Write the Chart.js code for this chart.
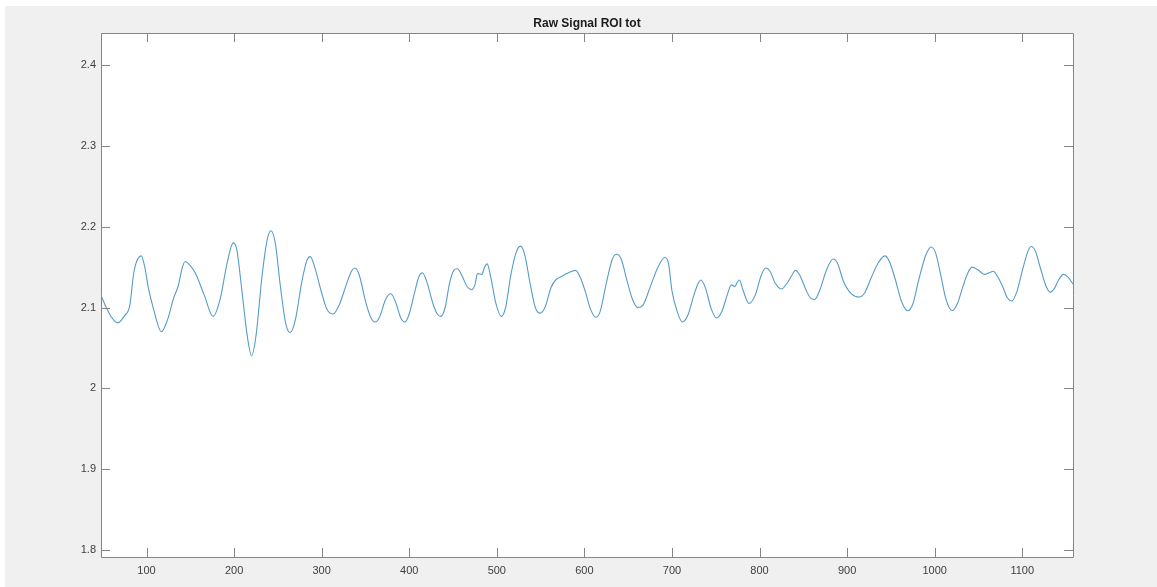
<!DOCTYPE html>
<html>
<head>
<meta charset="utf-8">
<title>Raw Signal ROI tot</title>
<script src="https://cdn.jsdelivr.net/npm/chart.js@4/dist/chart.umd.min.js"></script>
<style>
    html, body { margin: 0; padding: 0; background: #fff; }
    #wrap { position: absolute; left: 5px; top: 6px; width: 1152px; height: 581px; background: #f0f0f0; }
    canvas { display: block; }
</style>
</head>
<body>
<div id="wrap"><canvas id="myChart" width="1152" height="581"></canvas></div>
<script>
// sample index (x) and raw signal value
const sampleX = [
    48, 54, 60, 67, 75, 81, 85, 88, 94, 98, 102, 108, 117, 124, 131, 136, 141, 144, 150, 156,
    166, 176, 184, 192, 199, 203, 209, 215, 220, 225, 232, 238, 242, 247, 253, 259, 264, 270, 277, 283,
    287, 292, 300, 306, 313, 320, 328, 334, 338, 343, 350, 356, 361, 366, 373, 379, 385, 390, 395, 400,
    406, 411, 415, 420, 427, 432, 436, 441, 446, 451, 455, 460, 466, 471, 475, 478, 483, 486, 489, 493,
    499, 505, 510, 516, 522, 527, 532, 538, 544, 549, 555, 562, 568, 575, 580, 586, 590, 595, 601, 607,
    613, 618, 625, 632, 637, 642, 649, 655, 661, 667, 675, 684, 692, 696, 700, 706, 712, 718, 725, 730,
    733, 738, 745, 751, 757, 763, 768, 772, 774, 777, 781, 788, 795, 802, 807, 812, 818, 825, 832, 837,
    841, 846, 853, 858, 863, 869, 876, 884, 889, 896, 905, 914, 920, 928, 936, 943, 948, 955, 962, 969,
    975, 982, 990, 996, 1001, 1007, 1013, 1020, 1026, 1032, 1038, 1043, 1049, 1057, 1062, 1067, 1072, 1078, 1083, 1088,
    1094, 1100, 1106, 1110, 1115, 1121, 1127, 1132, 1137, 1142, 1147, 1152, 1158
];
const signal = [
    2.115, 2.100, 2.088, 2.081, 2.090, 2.103, 2.140, 2.155, 2.164, 2.150, 2.125, 2.098, 2.070, 2.085, 2.112, 2.126, 2.150, 2.157, 2.152, 2.142,
    2.115, 2.089, 2.110, 2.155, 2.180, 2.172, 2.120, 2.065, 2.040, 2.065, 2.140, 2.185, 2.195, 2.180, 2.125, 2.080, 2.069, 2.085, 2.130, 2.158,
    2.163, 2.150, 2.118, 2.098, 2.092, 2.103, 2.128, 2.145, 2.149, 2.140, 2.108, 2.088, 2.082, 2.088, 2.110, 2.117, 2.105, 2.088, 2.082, 2.092,
    2.118, 2.138, 2.143, 2.132, 2.105, 2.092, 2.089, 2.100, 2.130, 2.146, 2.148, 2.140, 2.126, 2.122, 2.128, 2.142, 2.141, 2.150, 2.154, 2.138,
    2.105, 2.089, 2.100, 2.140, 2.168, 2.176, 2.165, 2.130, 2.100, 2.093, 2.100, 2.125, 2.135, 2.139, 2.142, 2.145, 2.146, 2.138, 2.120, 2.098,
    2.088, 2.095, 2.130, 2.160, 2.166, 2.160, 2.132, 2.110, 2.100, 2.103, 2.125, 2.150, 2.162, 2.155, 2.121, 2.095, 2.082, 2.090, 2.115, 2.130,
    2.134, 2.125, 2.098, 2.087, 2.095, 2.115, 2.128, 2.126, 2.130, 2.134, 2.122, 2.105, 2.115, 2.140, 2.149, 2.145, 2.130, 2.123, 2.131, 2.140,
    2.146, 2.140, 2.122, 2.112, 2.110, 2.122, 2.145, 2.160, 2.155, 2.132, 2.117, 2.113, 2.118, 2.138, 2.156, 2.164, 2.158, 2.135, 2.108, 2.096,
    2.104, 2.135, 2.165, 2.175, 2.168, 2.140, 2.110, 2.096, 2.105, 2.125, 2.143, 2.150, 2.147, 2.141, 2.143, 2.145, 2.138, 2.125, 2.112, 2.108,
    2.120, 2.145, 2.168, 2.1755, 2.170, 2.148, 2.127, 2.119, 2.124, 2.135, 2.141, 2.138, 2.129
];
const xTicks = [100, 200, 300, 400, 500, 600, 700, 800, 900, 1000, 1100];
const yTicks = [1.8, 1.9, 2.0, 2.1, 2.2, 2.3, 2.4];

const axisColor = '#858585';
const tickLen = 9;

// white plot area + box with inward ticks on all four sides (matlab style)
const boxPlugin = {
    id: 'box',
    beforeDraw(chart) {
        const a = chart.chartArea, ctx = chart.ctx;
        ctx.save();
        ctx.fillStyle = '#fff';
        ctx.fillRect(a.left, a.top, a.right - a.left, a.bottom - a.top);
        ctx.restore();
    },
    afterDraw(chart) {
        const a = chart.chartArea, ctx = chart.ctx;
        const xs = chart.scales.x, ys = chart.scales.y;
        ctx.save();
        ctx.strokeStyle = axisColor;
        ctx.lineWidth = 1;
        ctx.beginPath();
        ctx.rect(Math.round(a.left) + 0.5, Math.round(a.top) + 0.5, Math.round(a.right - a.left), Math.round(a.bottom - a.top));
        for (const t of xTicks) {
            const px = Math.round(xs.getPixelForValue(t)) + 0.5;
            ctx.moveTo(px, a.bottom); ctx.lineTo(px, a.bottom - tickLen);
            ctx.moveTo(px, a.top); ctx.lineTo(px, a.top + tickLen);
        }
        for (const t of yTicks) {
            const py = Math.round(ys.getPixelForValue(t)) + 0.5;
            ctx.moveTo(a.left, py); ctx.lineTo(a.left + tickLen, py);
            ctx.moveTo(a.right, py); ctx.lineTo(a.right - tickLen, py);
        }
        ctx.stroke();
        ctx.restore();
    }
};

window.addEventListener("DOMContentLoaded", function() {
    const points = sampleX.map((x, i) => ({ x, y: signal[i] }));
    const ctx = document.getElementById('myChart').getContext('2d');

    new Chart(ctx, {
        type: 'line',
        data: {
            datasets: [{
                label: 'Raw Signal ROI tot',
                data: points,
                borderColor: '#559bc8',
                borderWidth: 1.1,
                pointRadius: 0,
                cubicInterpolationMode: 'monotone',
                fill: false
            }]
        },
        options: {
            responsive: false,
            animation: false,
            layout: { padding: { top: 0, right: 84, bottom: 0, left: 0 } },
            plugins: {
                legend: { display: false },
                tooltip: { enabled: false },
                title: {
                    display: true,
                    text: 'Raw Signal ROI tot',
                    fullSize: false,
                    color: '#1a1a1a',
                    font: { family: "'Liberation Sans', Arial, sans-serif", size: 12, weight: 'bold', lineHeight: 1.2 },
                    padding: { top: 10.5, bottom: 2.1 }
                }
            },
            scales: {
                x: {
                    type: 'linear',
                    min: 48,
                    max: 1158,
                    grid: { display: false, drawTicks: false },
                    border: { display: false },
                    afterBuildTicks: s => { s.ticks = xTicks.map(v => ({ value: v })); },
                    afterFit: s => { s.height = 30; },
                    ticks: {
                        color: '#404040',
                        padding: 7,
                        maxRotation: 0,
                        autoSkip: false,
                        font: { family: "'Liberation Sans', Arial, sans-serif", size: 11 },
                        callback: v => String(v)
                    }
                },
                y: {
                    min: 1.791,
                    max: 2.44,
                    grid: { display: false, drawTicks: false },
                    border: { display: false },
                    afterBuildTicks: s => { s.ticks = yTicks.map(v => ({ value: v })); },
                    afterFit: s => { s.width = 96; },
                    ticks: {
                        color: '#404040',
                        padding: 5,
                        autoSkip: false,
                        font: { family: "'Liberation Sans', Arial, sans-serif", size: 11 },
                        callback: v => String(Math.round(v * 10) / 10)
                    }
                }
            }
        },
        plugins: [boxPlugin]
    });
});
</script>
</body>
</html>
